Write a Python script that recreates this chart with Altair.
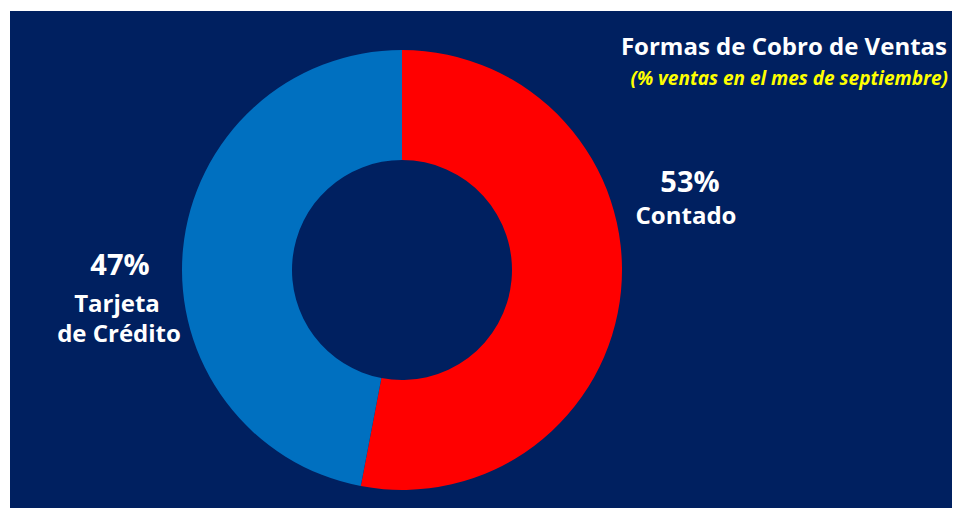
import altair as alt
import pandas as pd

categories = ["Contado", "Tarjeta de Crédito"]
values = [53, 47]
pct_labels = ["53%", "47%"]
colors = ["#FF0000", "#0070C0"]
order = [0, 1]

title_text = "Formas de Cobro de Ventas"
subtitle_text = "(% ventas en el mes de septiembre)"

df = pd.DataFrame({"cat": categories, "value": values, "ord": order})

FONT = "Open Sans"
NAVY = "#002060"

cx, cy = 392, 259

donut = alt.Chart(df).mark_arc(outerRadius=220, innerRadius=110, stroke=None).encode(
    theta=alt.Theta("value:Q", stack=True),
    color=alt.Color("cat:N", scale=alt.Scale(domain=categories, range=colors), legend=None),
    order=alt.Order("ord:Q"),
    x=alt.value(cx),
    y=alt.value(cy),
)

def label(text, x, y, size, italic=False, color="white", align="center"):
    return alt.Chart(pd.DataFrame({"t": [text]})).mark_text(
        font=FONT, fontWeight="bold", fontSize=size, color=color,
        fontStyle="italic" if italic else "normal",
        align=align, baseline="alphabetic",
    ).encode(text="t:N", x=alt.value(x), y=alt.value(y))

layers = [
    donut,
    label(pct_labels[0], 680, 181, 29),
    label("Contado", 676, 213, 24),
    label(pct_labels[1], 110, 264, 29),
    label("Tarjeta", 107, 301, 24),
    label("de Crédito", 109, 331, 24),
    label(title_text, 937, 44, 24, align="right"),
    label(subtitle_text, 938, 74, 19, italic=True, color="#FFFF00", align="right"),
]

chart = alt.layer(*layers).properties(
    width=942, height=497,
    padding={"left": 2, "top": 3, "right": 0, "bottom": 0},
    background="white",
).configure_view(fill=NAVY, strokeWidth=0)

chart.save("out.html", embed_options={"renderer": "svg", "actions": False})
